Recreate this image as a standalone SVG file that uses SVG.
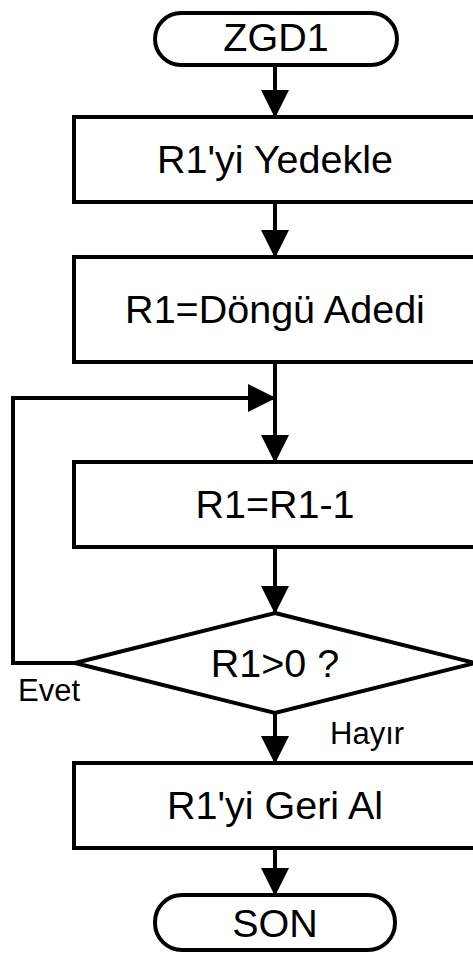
<svg xmlns="http://www.w3.org/2000/svg" width="473" height="953" viewBox="0 0 473 953">
<style>
.s{fill:#fff;stroke:#000;stroke-width:4;stroke-linejoin:miter}
.c{fill:none;stroke:#000;stroke-width:4}
.t{font-family:"Liberation Sans",Arial,sans-serif;font-size:39.5px;fill:#000;text-anchor:middle}
.l{font-family:"Liberation Sans",Arial,sans-serif;font-size:31px;fill:#000}
</style>
<defs>
<marker id="a" markerUnits="userSpaceOnUse" markerWidth="28" markerHeight="28" viewBox="0 0 28 28" refX="27" refY="14" orient="auto">
<path d="M0,0 L28,14 L0,28 Z" fill="#000"/>
</marker>
</defs>
<g id="connectors">
<line class="c" x1="275" y1="65" x2="275" y2="117" marker-end="url(#a)"/>
<line class="c" x1="275" y1="202" x2="275" y2="257" marker-end="url(#a)"/>
<line class="c" x1="275" y1="362" x2="275" y2="462" marker-end="url(#a)"/>
<line class="c" x1="275" y1="547" x2="275" y2="613" marker-end="url(#a)"/>
<polyline class="c" points="75,663 13,663 13,398 275,398" marker-end="url(#a)"/>
<line class="c" x1="275" y1="713" x2="275" y2="763" marker-end="url(#a)"/>
<line class="c" x1="275" y1="848" x2="275" y2="895" marker-end="url(#a)"/>
</g>
<g id="start">
<rect class="s" x="155" y="13" width="242" height="52" rx="26" ry="26"/>
<text class="t" x="276" y="51">ZGD1</text>
</g>
<g id="backup">
<rect class="s" x="74" y="117" width="402" height="85"/>
<text class="t" x="275" y="173">R1'yi Yedekle</text>
</g>
<g id="init">
<rect class="s" x="74" y="257" width="402" height="105"/>
<text class="t" x="275" y="323">R1=Döngü Adedi</text>
</g>
<g id="dec">
<rect class="s" x="74" y="462" width="402" height="85"/>
<text class="t" x="275" y="518">R1=R1-1</text>
</g>
<g id="cond">
<polygon class="s" points="275,613 475,663 275,713 75,663"/>
<text class="t" x="275" y="677">R1&gt;0 ?</text>
<text class="l" x="18" y="701">Evet</text>
<text class="l" x="330" y="744">Hayır</text>
</g>
<g id="restore">
<rect class="s" x="74" y="763" width="402" height="85"/>
<text class="t" x="275" y="819">R1'yi Geri Al</text>
</g>
<g id="end">
<rect class="s" x="155" y="895" width="240" height="55" rx="27" ry="27"/>
<text class="t" x="275" y="937">SON</text>
</g>
</svg>
